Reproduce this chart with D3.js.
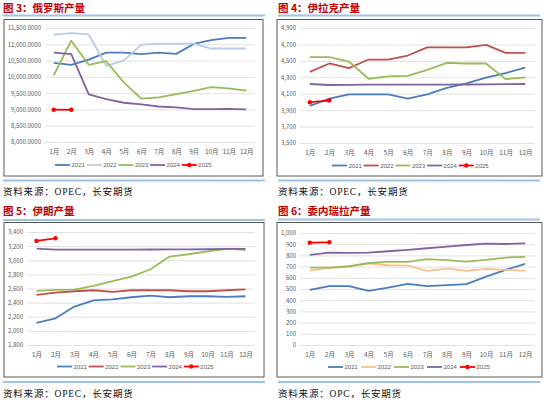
<!DOCTYPE html>
<html>
<head>
<meta charset="utf-8">
<script src="https://cdn.jsdelivr.net/npm/d3@7"></script>
<style>
  body { margin: 0; background: #fff; }
  svg { display: block; }
  .title { font-family: "Noto Sans CJK SC", sans-serif; font-weight: bold; fill: #c00000; font-size: 10.5px; }
  .source { font-family: "Liberation Serif", "Noto Sans CJK SC", serif; fill: #111; font-size: 9.5px; letter-spacing: 0.8px; }
  .tick text { font-family: "Noto Sans CJK SC", sans-serif; fill: #595959; }
  .legendText { font-family: "Liberation Sans", sans-serif; fill: #595959; font-size: 6px; }
</style>
</head>
<body>
<svg id="chart" width="550" height="401"></svg>
<script>
const months = ["1月","2月","3月","4月","5月","6月","7月","8月","9月","10月","11月","12月"];
const years = ["2021","2022","2023","2024","2025"];

// 俄罗斯
const russia2021 = [10430,10370,10530,10745,10745,10695,10745,10705,11010,11130,11195,11195];
const russia2022 = [11295,11345,11305,10340,10500,10990,11020,11020,11020,10870,10870,10870];
const russia2023 = [10050,11110,10370,10480,9830,9330,9370,9470,9570,9685,9645,9580];
const russia2024 = [10745,10695,9460,9315,9205,9155,9090,9060,9010,9010,9020,9000];
const russia2025 = [8990,8990];
const russiaTicks = [8000,8500,9000,9500,10000,10500,11000,11500];

// 伊拉克
const iraq2021 = [3952,4040,4093,4093,4093,4040,4093,4170,4227,4296,4352,4417];
const iraq2022 = [4365,4468,4412,4516,4516,4565,4665,4665,4665,4694,4597,4597];
const iraq2023 = [4545,4545,4492,4282,4310,4318,4391,4476,4468,4468,4278,4298];
const iraq2024 = [4218,4206,4208,4210,4210,4210,4210,4210,4212,4214,4216,4218];
const iraq2025 = [3997,4017];
const iraqTicks = [3500,3700,3900,4100,4300,4500,4700,4900];

// 伊朗
const iran2021 = [2113,2178,2344,2433,2447,2476,2500,2476,2490,2490,2480,2490];
const iran2022 = [2509,2542,2561,2575,2552,2575,2575,2575,2561,2561,2575,2589];
const iran2023 = [2566,2580,2585,2637,2703,2769,2873,3052,3085,3127,3160,3146];
const iran2024 = [3165,3150,3150,3150,3150,3150,3152,3155,3155,3156,3160,3160];
const iran2025 = [3273,3311];
const iranTicks = [1800,2000,2200,2400,2600,2800,3000,3200,3400];

// 委内瑞拉
const venez2021 = [492,525,525,484,513,546,525,534,543,611,671,724];
const venez2022 = [665,689,697,730,712,709,662,682,662,680,671,662];
const venez2023 = [691,691,703,730,745,742,766,757,745,760,781,787];
const venez2024 = [804,825,822,825,837,849,864,878,893,905,902,908];
const venez2025 = [914,917];
const venezTicks = [0,100,200,300,400,500,600,700,800,900,1000];

const svg = d3.select("#chart");

function drawPanel(p)
{
    const g = svg.append("g").attr("transform", `translate(${p.ox},${p.oy})`);

    g.append("text").attr("class", "title")
        .attr("x", 3).attr("y", p.titleY)
        .text(p.title);

    g.append("line")
        .attr("x1", 3).attr("x2", 265)
        .attr("y1", p.sepTop).attr("y2", p.sepTop)
        .attr("stroke", "#9dc3e6").attr("stroke-width", 2);

    g.append("rect")
        .attr("x", p.box[0]).attr("y", p.box[1])
        .attr("width", p.box[2] - p.box[0]).attr("height", p.box[3] - p.box[1])
        .attr("fill", "#fff").attr("stroke", "#595959").attr("stroke-width", 1);

    const x = d3.scalePoint().domain(months).range([p.left, p.right]).padding(0.5);
    const y = d3.scaleLinear().domain(d3.extent(p.ticks)).range([p.bottom, p.top]);

    g.append("g")
        .attr("transform", `translate(${p.left},0)`)
        .call(d3.axisLeft(y).tickValues(p.ticks).tickFormat(d3.format(p.fmt))
            .tickSize(-(p.right - p.left)).tickPadding(p.tickPad))
        .call(a => a.select(".domain").remove())
        .call(a => a.selectAll(".tick line").attr("stroke", "#d9d9d9").attr("stroke-width", 0.8))
        .call(a => a.selectAll(".tick text").attr("font-size", "6px"));

    g.append("g")
        .attr("transform", `translate(0,${p.bottom})`)
        .call(d3.axisBottom(x).tickSize(0).tickPadding(p.xPad))
        .call(a => a.select(".domain").remove())
        .call(a => a.selectAll(".tick text").attr("font-size", "6.5px"));

    const line = d3.line().x((d, i) => x(months[i])).y(d => y(d));

    p.series.forEach((s, k) => {
        g.append("path")
            .datum(s)
            .attr("fill", "none")
            .attr("stroke", p.colors[k])
            .attr("stroke-width", 1.8)
            .attr("stroke-linejoin", "round")
            .attr("d", line);
        if (k == 4) {
            g.selectAll(".dot" + k).data(s).enter()
                .append("circle")
                .attr("cx", (d, i) => x(months[i]))
                .attr("cy", d => y(d))
                .attr("r", 2.2)
                .attr("fill", p.colors[k]);
        }
    });

    const leg = g.append("g").attr("transform", `translate(${p.legX},${p.legY})`);
    years.forEach((yr, k) => {
        const item = leg.append("g").attr("transform", `translate(${k * p.legStep},0)`);
        item.append("line")
            .attr("x1", 0).attr("x2", 15).attr("y1", 0).attr("y2", 0)
            .attr("stroke", p.colors[k]).attr("stroke-width", 1.8);
        if (k == 4) {
            item.append("circle").attr("cx", 7.5).attr("cy", 0).attr("r", 2.2).attr("fill", p.colors[k]);
        }
        item.append("text").attr("class", "legendText")
            .attr("x", 16.5).attr("y", 2.1)
            .text(yr);
    });

    g.append("line")
        .attr("x1", 3).attr("x2", 265)
        .attr("y1", p.sepBottom).attr("y2", p.sepBottom)
        .attr("stroke", "#9dc3e6").attr("stroke-width", 2);

    g.append("text").attr("class", "source")
        .attr("x", 3).attr("y", p.sourceY)
        .text(p.source);
}

drawPanel({
    ox: 0, oy: 0, title: "图 3：俄罗斯产量", source: "资料来源：OPEC，长安期货",
    titleY: 11.5, sepTop: 15.5, sepBottom: 180.5, sourceY: 195,
    box: [4, 19.5, 263, 176], left: 45, right: 255, top: 28, bottom: 142,
    ticks: russiaTicks, fmt: ",.4f", tickPad: 4, xPad: 7,
    series: [russia2021, russia2022, russia2023, russia2024, russia2025],
    colors: ["#4a7ebb", "#b9cde5", "#9bbb59", "#8064a2", "#ff0000"],
    legX: 55, legY: 165, legStep: 31.7
});

drawPanel({
    ox: 275, oy: 0, title: "图 4：伊拉克产量", source: "资料来源：OPEC，长安期货",
    titleY: 11.5, sepTop: 15.5, sepBottom: 180.5, sourceY: 195,
    box: [2, 19.5, 267, 176], left: 25, right: 260, top: 28, bottom: 143,
    ticks: iraqTicks, fmt: ",", tickPad: 4, xPad: 7,
    series: [iraq2021, iraq2022, iraq2023, iraq2024, iraq2025],
    colors: ["#4a7ebb", "#c0504d", "#9bbb59", "#8064a2", "#ff0000"],
    legX: 57, legY: 165.5, legStep: 31.7
});

drawPanel({
    ox: 0, oy: 200, title: "图 5：伊朗产量", source: "资料来源：OPEC，长安期货",
    titleY: 15, sepTop: 20, sepBottom: 182, sourceY: 196.5,
    box: [4, 22.5, 264, 177], left: 27, right: 255, top: 32, bottom: 145,
    ticks: iranTicks, fmt: ",", tickPad: 4, xPad: 7,
    series: [iran2021, iran2022, iran2023, iran2024, iran2025],
    colors: ["#4a7ebb", "#c0504d", "#9bbb59", "#8064a2", "#ff0000"],
    legX: 57, legY: 166.5, legStep: 31.7
});

drawPanel({
    ox: 275, oy: 200, title: "图 6：委内瑞拉产量", source: "资料来源：OPC，长安期货",
    titleY: 15, sepTop: 19.5, sepBottom: 182, sourceY: 196.5,
    box: [2, 22.5, 267, 177], left: 25, right: 260, top: 33, bottom: 145,
    ticks: venezTicks, fmt: ",", tickPad: 4, xPad: 7.5,
    series: [venez2021, venez2022, venez2023, venez2024, venez2025],
    colors: ["#4a7ebb", "#fac090", "#9bbb59", "#8064a2", "#ff0000"],
    legX: 53, legY: 167, legStep: 33
});
</script>
</body>
</html>
